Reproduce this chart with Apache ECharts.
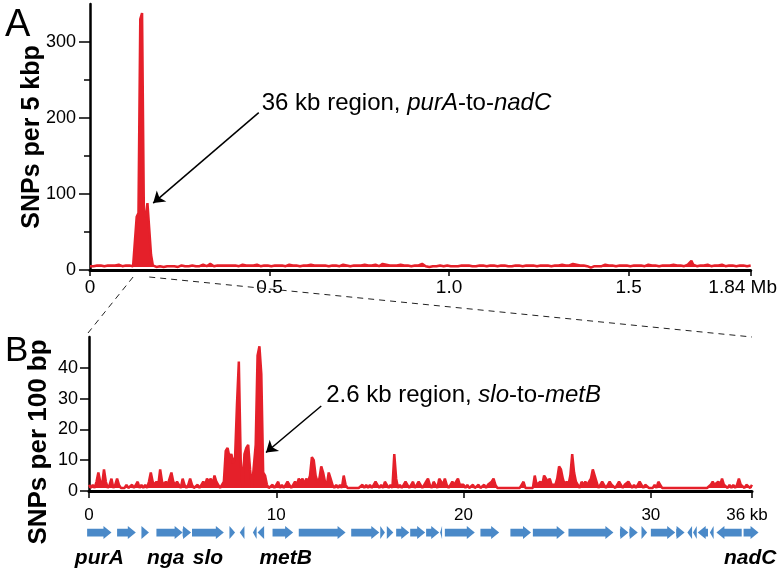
<!DOCTYPE html>
<html><head><meta charset="utf-8">
<script src="https://cdn.jsdelivr.net/npm/echarts@6/dist/echarts.min.js"></script>
<style>html,body{margin:0;padding:0;background:#fff}#c{width:780px;height:572px}</style>
</head><body><div id="c"></div>
<script>
// ---- Panel A: SNPs per 5 kbp across the 1.84 Mb genome ----
const genomeStepMb = 0.005;
const genomeSnps = [
5,6,5,5,6,5,6,6,5,5,6,5,6,5,6,6,7,6,5,6,
6,5,6,6,5,6,70,75,330,338,78,70,88,86,20,6,5,4,5,5,
5,4,5,5,4,5,6,5,5,4,5,6,5,5,6,5,5,6,5,5,
6,5,6,7,6,5,6,8,6,5,6,6,5,6,5,6,7,6,5,6,
5,6,6,5,6,7,6,6,5,6,5,6,6,7,6,5,6,6,5,6,
6,5,6,6,7,6,5,6,6,5,6,7,6,6,5,6,6,5,6,6,
5,6,6,7,6,6,5,6,7,6,5,6,6,5,6,6,7,6,6,5,
6,7,8,6,6,5,6,6,7,6,5,6,6,7,6,6,5,6,6,7,
6,5,6,8,9,7,6,6,5,6,7,6,6,7,8,6,5,6,6,5,
6,6,5,6,7,8,6,5,6,4,3,5,6,5,4,6,6,5,6,6,
6,5,4,5,6,5,5,6,5,6,7,6,5,5,6,5,6,6,5,6,
6,5,6,6,5,6,6,5,6,6,5,6,6,5,6,5,6,6,5,6,
6,5,6,6,5,6,5,6,6,5,6,6,7,6,5,6,6,5,6,6,
5,6,6,7,6,6,5,6,6,8,9,7,6,6,5,6,6,5,4,3,
4,5,6,5,6,5,6,7,6,6,8,6,6,5,6,6,5,6,7,6,
6,5,6,6,7,6,5,6,6,5,6,7,6,6,5,6,6,5,6,6,
7,6,5,6,6,7,6,6,5,6,6,5,6,7,6,12,7,6,5,6,
6,5,6,6,7,6,5,6,6,5,6,6,7,6,5,6,6,5,6,6,
5,6,6,5,6,6,5,6,6
];
const genomeXTicks = [0, 0.5, 1.0, 1.5, 1.84];
const genomeXLabels = ['0', '0.5', '1.0', '1.5', '1.84 Mb'];
const genomeYTicks = [0, 100, 200, 300];
const genomeYMinorTicks = [50, 150, 250];
const regionStartMb = 0.12, regionEndMb = 0.165;

// ---- Panel B: SNPs per 100 bp across the 36 kb region ----
const regionStepKb = 0.1;
const regionSnps = [
2,1,2,1,3,6,3,2,7,3,1,2,4,1,2,4,2,1,1,1,
2,1,1,2,1,2,3,1,2,1,2,1,3,6,3,2,3,2,7,3,
2,3,2,2,6,3,2,3,2,1,4,2,1,2,4,2,1,1,2,1,
2,3,2,4,3,4,2,5,3,2,1,2,3,13,14,11,12,9,11,28,
42,10,1,12,14,15,7,1,8,15,44,47,38,6,5,2,1,1,2,1,
2,3,1,2,1,2,3,2,1,2,3,2,4,3,4,2,4,3,5,11,
10,5,3,4,8,6,3,2,6,4,2,1,2,1,2,1,5,2,1,1,
1,1,1,1,1,1,2,1,2,1,2,1,2,3,2,1,2,1,3,2,
1,2,1,12,4,1,2,1,2,3,2,1,2,3,1,2,3,2,1,2,
3,4,2,1,3,2,1,4,3,2,4,2,1,2,3,2,3,4,2,2,
2,1,2,1,1,2,1,1,2,1,1,2,1,2,2,3,4,2,1,1,
1,1,1,1,1,1,1,1,1,1,1,2,3,1,1,1,1,1,5,2,
2,3,2,5,4,3,4,2,2,2,4,8,7,4,2,3,2,5,12,6,
3,2,1,3,2,3,2,3,4,7,5,3,1,2,3,2,1,2,3,2,
2,1,2,3,2,1,2,2,3,2,1,2,1,2,3,2,1,2,2,1,
1,1,2,1,3,2,1,1,1,1,1,1,1,1,1,1,1,1,1,1,
1,1,1,1,1,1,1,1,1,1,1,1,2,3,2,2,3,2,4,2,
2,1,2,1,2,1,2,4,2,2,1,2,2,1,2
];
const regionXTicks = [0, 10, 20, 30, 35.4];
const regionXLabels = ['0', '10', '20', '30', '36 kb'];
const regionYTicks = [0, 10, 20, 30, 40];

// genes: [start kb, end kb, strand]
const genes = [
[-0.1,1.2,1],[1.5,2.5,1],[2.8,3.2,1],[3.6,5.0,1],[5.0,5.45,1],[5.5,7.2,1],[7.5,7.8,1],
[8.05,8.3,-1],[8.75,8.95,-1],[9.0,9.35,-1],[9.8,10.9,1],[11.2,13.7,1],[14.0,15.5,1],
[15.55,15.8,1],[15.9,16.25,1],[16.4,17.1,1],[17.15,17.95,1],[18.0,18.7,1],[18.75,18.85,-1],
[19.0,20.6,1],[20.9,21.9,1],[22.5,23.6,1],[23.7,25.4,1],[25.6,28.0,1],[28.35,28.8,1],
[28.85,29.3,1],[29.5,29.8,1],[30.0,31.3,1],[31.35,31.8,1],[31.95,32.2,-1],[32.25,32.45,-1],
[32.5,33.05,-1],[33.15,33.35,-1],[33.5,34.85,-1],[34.95,35.75,1]
];
const geneNames = ['purA', 'nga', 'slo', 'metB', 'nadC'];
const geneNamePos = [0.55, 4.1, 6.35, 10.5, 35.3];

const RED = '#e5202a', BLUE = '#4a89c8';
const FONT = "'Liberation Sans', Arial, sans-serif";

const genomeData = genomeSnps.map((v, i) => [+(i * genomeStepMb).toFixed(3), v]);
const regionData = regionSnps.map((v, i) => [+(i * regionStepKb).toFixed(1), v]);

const chart = echarts.init(document.getElementById('c'), null, {renderer: 'canvas'});

const blackLine = {show: true, onZero: false, lineStyle: {color: '#000', width: 3}};

chart.setOption({
  animation: false,
  backgroundColor: '#fff',
  title: [
    {text: 'A', left: 0, top: 2, textStyle: {fontFamily: FONT, fontSize: 38, fontWeight: 'normal', color: '#000'}},
    {text: 'B', left: 0, top: 329, textStyle: {fontFamily: FONT, fontSize: 35, fontWeight: 'normal', color: '#000'}}
  ],
  grid: [
    {left: 90, right: 24, top: 4, height: 266},
    {left: 89, right: 28, top: 337, height: 154},
    {left: 89, right: 28, top: 520, height: 45}
  ],
  xAxis: [
    {gridIndex: 0, type: 'value', min: 0, max: 1.84, axisLine: blackLine, splitLine: {show: false},
     axisTick: {customValues: genomeXTicks, length: 6, lineStyle: {width: 1.5, color: '#000'}},
     axisLabel: {customValues: genomeXTicks, margin: 8, fontFamily: FONT, fontSize: 19, color: '#000',
       formatter: v => { const k = genomeXTicks.indexOf(v); const t = k >= 0 ? genomeXLabels[k] : ''; return k === genomeXTicks.length - 1 ? '{e|' + t + '}' : t; },
       rich: {e: {fontFamily: FONT, fontSize: 19, color: '#000', padding: [0, 16, 0, 0]}}}},
    {gridIndex: 1, type: 'value', min: 0, max: 35.4, axisLine: blackLine, splitLine: {show: false},
     axisTick: {customValues: regionXTicks, length: 7, lineStyle: {width: 1.5, color: '#000'}},
     axisLabel: {customValues: regionXTicks, margin: 16, fontFamily: FONT, fontSize: 17, color: '#000',
       formatter: v => { const k = regionXTicks.indexOf(v); const t = k >= 0 ? regionXLabels[k] : ''; return k === regionXTicks.length - 1 ? '{e|' + t + '}' : t; },
       rich: {e: {fontFamily: FONT, fontSize: 17, color: '#000', padding: [0, 10, 0, 0]}}}},
    {gridIndex: 2, type: 'value', min: 0, max: 35.4, show: false}
  ],
  yAxis: [
    {gridIndex: 0, type: 'value', min: 0, max: 350, position: 'left', splitLine: {show: false},
     axisLine: {show: true, lineStyle: {color: '#000', width: 2.5}},
     axisTick: {customValues: genomeYTicks, length: 11, lineStyle: {width: 1.5, color: '#000'}},
     axisLabel: {customValues: genomeYTicks, margin: 14, fontFamily: FONT, fontSize: 18, color: '#000'}},
    {gridIndex: 0, type: 'value', min: 0, max: 350, position: 'left', offset: 0, splitLine: {show: false},
     axisLine: {show: false},
     axisTick: {show: true, customValues: genomeYMinorTicks, length: 6, lineStyle: {width: 1.5, color: '#000'}},
     axisLabel: {show: false}},
    {gridIndex: 1, type: 'value', min: 0, max: 50, position: 'left', splitLine: {show: false},
     axisLine: {show: true, lineStyle: {color: '#000', width: 2.5}},
     axisTick: {customValues: regionYTicks, length: 9, lineStyle: {width: 1.5, color: '#000'}},
     axisLabel: {customValues: regionYTicks, margin: 11, fontFamily: FONT, fontSize: 18, color: '#000'}},
    {gridIndex: 2, type: 'value', min: 0, max: 1, show: false}
  ],
  series: [
    {type: 'line', xAxisIndex: 0, yAxisIndex: 0, data: genomeData, showSymbol: false, symbol: 'none',
     lineStyle: {color: RED, width: 2.5}, areaStyle: {color: RED, opacity: 1, origin: 4},
     markLine: {silent: true, symbol: ['none', 'arrow'], symbolSize: 11, animation: false,
       lineStyle: {color: '#000', width: 1.5, type: 'solid'}, label: {show: false},
       data: [[{coord: [0.47, 207]}, {coord: [0.176, 88]}]]}},
    {type: 'line', xAxisIndex: 1, yAxisIndex: 2, data: regionData, showSymbol: false, symbol: 'none',
     lineStyle: {color: RED, width: 2.5}, areaStyle: {color: RED, opacity: 1, origin: 1},
     markLine: {silent: true, symbol: ['none', 'arrow'], symbolSize: 11, animation: false,
       lineStyle: {color: '#000', width: 1.5, type: 'solid'}, label: {show: false},
       data: [[{coord: [12.4, 27.6]}, {coord: [9.45, 12.5]}]]}},
    {type: 'custom', xAxisIndex: 2, yAxisIndex: 3, data: genes, clip: false, silent: true,
     renderItem: (params, api) => {
       const s = api.value(0), e = api.value(1), dir = api.value(2);
       const a = api.coord([s, 0.72]), b = api.coord([e, 0.72]);
       const y = a[1], x0 = a[0], x1 = b[0];
       const sh = 3.8, hh = 6.5, head = Math.min(8, x1 - x0);
       let pts;
       if (dir > 0) {
         const hx = x1 - head;
         pts = [[x0, y - sh], [hx, y - sh], [hx, y - hh], [x1, y], [hx, y + hh], [hx, y + sh], [x0, y + sh]];
       } else {
         const hx = x0 + head;
         pts = [[x1, y - sh], [hx, y - sh], [hx, y - hh], [x0, y], [hx, y + hh], [hx, y + sh], [x1, y + sh]];
       }
       return {type: 'polygon', shape: {points: pts}, style: {fill: BLUE}};
     }},
    {type: 'custom', xAxisIndex: 2, yAxisIndex: 3, clip: false, silent: true,
     data: geneNames.map((n, i) => [geneNamePos[i], 0.16, i]),
     renderItem: (params, api) => {
       const p = api.coord([api.value(0), api.value(1)]);
       return {type: 'text', x: p[0], y: p[1], style: {text: geneNames[api.value(2)],
         font: "italic bold 21px 'Liberation Sans', Arial, sans-serif", fill: '#000', align: 'center', verticalAlign: 'middle'}};
     }}
  ]
});

// annotation text, y-axis titles and dashed zoom connectors
const pTail = chart.convertToPixel({gridIndex: 0}, [0.47, 207]);
const bTail = chart.convertToPixel({gridIndex: 1}, [12.4, 27.6]);
const cL = chart.convertToPixel({gridIndex: 0}, [regionStartMb, 0]);
const cR = chart.convertToPixel({gridIndex: 0}, [regionEndMb, 0]);
const bL = chart.convertToPixel({gridIndex: 1}, [0, 50]);
const bR = chart.convertToPixel({gridIndex: 1}, [35.4, 50]);
const rich = {
  n: {fontFamily: FONT, fontSize: 24, fill: '#000'},
  i: {fontFamily: FONT, fontSize: 24, fontStyle: 'italic', fill: '#000'}
};
chart.setOption({
  graphic: [
    {type: 'text', x: pTail[0] + 3, y: pTail[1] - 9, style: {text: '{n|36 kb region, }{i|purA}{n|-to-}{i|nadC}', rich, verticalAlign: 'middle'}},
    {type: 'text', x: bTail[0] + 5, y: bTail[1] - 11, style: {text: '{n|2.6 kb region, }{i|slo}{n|-to-}{i|metB}', rich, verticalAlign: 'middle'}},
    {type: 'text', x: 32, y: 137, rotation: Math.PI / 2, style: {text: 'SNPs per 5 kbp', font: "bold 25px 'Liberation Sans', Arial, sans-serif", fill: '#000', align: 'center', verticalAlign: 'middle'}},
    {type: 'text', x: 39, y: 442, rotation: Math.PI / 2, style: {text: 'SNPs per 100 bp', font: "bold 26px 'Liberation Sans', Arial, sans-serif", fill: '#000', align: 'center', verticalAlign: 'middle'}},
    {type: 'line', shape: {x1: cL[0], y1: cL[1] + 7, x2: bL[0] - 1, y2: bL[1] - 4}, style: {stroke: '#222', lineWidth: 1, lineDash: [6, 5]}},
    {type: 'line', shape: {x1: cR[0], y1: cR[1] + 7, x2: bR[0], y2: bR[1]}, style: {stroke: '#222', lineWidth: 1, lineDash: [6, 5]}}
  ]
});
</script></body></html>
